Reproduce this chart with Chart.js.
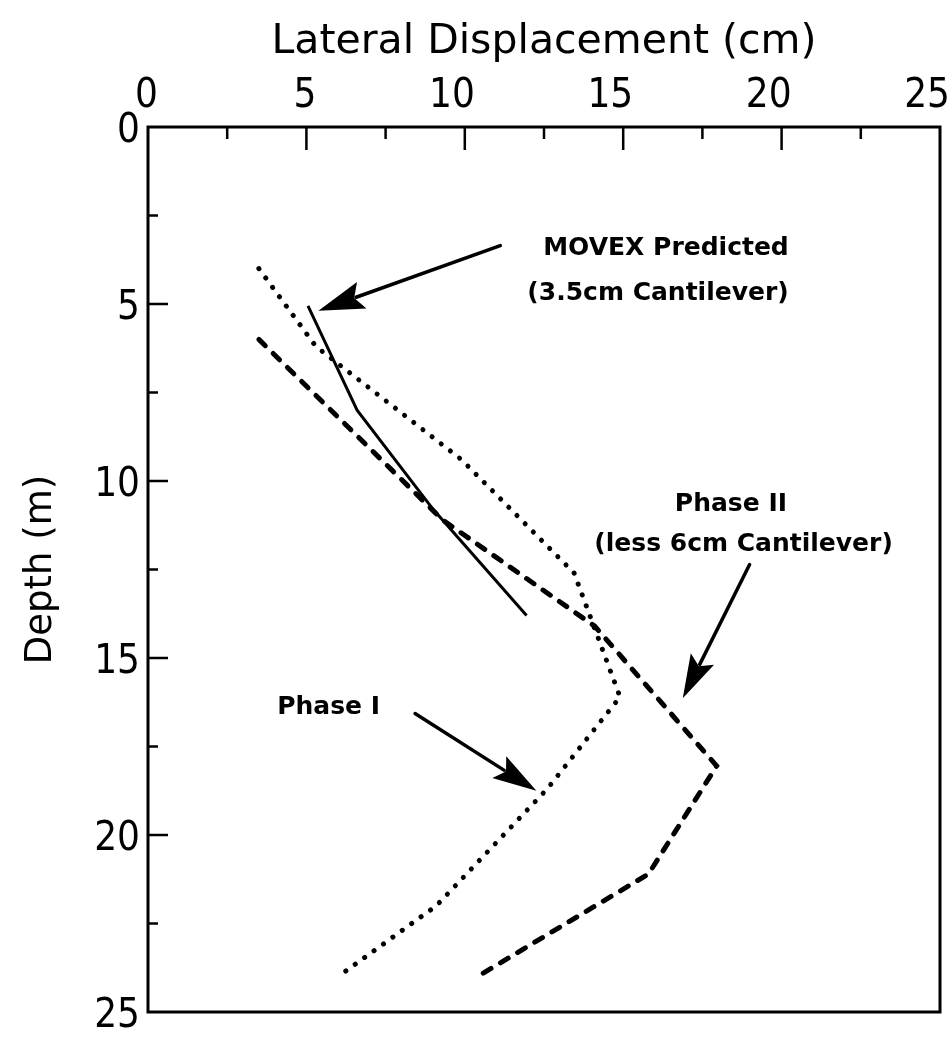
<!DOCTYPE html>
<html>
<head>
<meta charset="utf-8">
<title>Lateral Displacement vs Depth</title>
<script src="https://cdn.jsdelivr.net/npm/chart.js@4.4.1/dist/chart.umd.min.js"></script>
<style>
  html, body { margin: 0; padding: 0; background: #fff; }
</style>
</head>
<body>
<canvas id="profileChart" width="949" height="1047"></canvas>
<script>
// displacement (cm) / depth (m) pairs for each profile
const movexDisp   = [5.05, 6.6, 9.0, 11.95];
const movexDepth  = [5.05, 8.0, 10.8, 13.8];
const phase1Disp  = [3.5, 5.3, 9.9, 13.45, 14.9, 12.6, 9.1, 6.0];
const phase1Depth = [4.0, 6.2, 9.4, 12.6, 16.1, 18.7, 22.0, 24.0];
const phase2Disp  = [3.5, 9.3, 14.1, 17.95, 15.8, 10.4];
const phase2Depth = [6.0, 11.1, 14.1, 18.05, 21.1, 24.0];

const axisMax = 25;
const labelStep = 5;
const tickMarks = [2.5, 5, 7.5, 10, 12.5, 15, 17.5, 20, 22.5];

const toPoints = (xs, ys) => xs.map((v, i) => ({ x: v, y: ys[i] }));

const tickFont   = { family: "'Liberation Sans Narrow', 'DejaVu Sans Condensed', sans-serif", size: 40 };
const xTitleFont = { family: "'DejaVu Sans', sans-serif", size: 41 };
const yTitleFont = { family: "'DejaVu Sans', sans-serif", size: 37 };
const noteFont   = "bold 25px 'DejaVu Sans', sans-serif";

// frame round the plot plus inward tick marks on top and left
const frameTicks = {
  id: 'frameTicks',
  afterDraw(chart) {
    const { ctx, chartArea: a, scales: { x, y } } = chart;
    ctx.save();
    ctx.strokeStyle = '#000';
    ctx.lineWidth = 3;
    ctx.strokeRect(a.left, a.top, a.right - a.left, a.bottom - a.top);
    ctx.lineWidth = 2.5;
    ctx.beginPath();
    tickMarks.forEach(v => {
      const major = v % labelStep === 0;
      const px = x.getPixelForValue(v);
      ctx.moveTo(px, a.top);
      ctx.lineTo(px, a.top + (major ? 23 : 12));
      const py = y.getPixelForValue(v);
      ctx.moveTo(a.left, py);
      ctx.lineTo(a.left + (major ? 20 : 10), py);
    });
    ctx.stroke();
    ctx.restore();
  }
};

// callout arrows and their captions
const callouts = {
  id: 'callouts',
  afterDatasetsDraw(chart) {
    const { ctx, scales: { x, y } } = chart;
    const X = v => x.getPixelForValue(v);
    const Y = v => y.getPixelForValue(v);

    function arrow(x0, y0, x1, y1, len, half) {
      const p0 = [X(x0), Y(y0)], p1 = [X(x1), Y(y1)];
      const ang = Math.atan2(p1[1] - p0[1], p1[0] - p0[0]);
      const c = Math.cos(ang), s = Math.sin(ang);
      const bx = p1[0] - len * c, by = p1[1] - len * s;
      ctx.beginPath();
      ctx.moveTo(p0[0], p0[1]);
      ctx.lineTo(bx + 6 * c, by + 6 * s);
      ctx.stroke();
      ctx.beginPath();
      ctx.moveTo(p1[0], p1[1]);
      ctx.lineTo(bx + half * s, by - half * c);
      ctx.lineTo(bx + 8 * c, by + 8 * s);
      ctx.lineTo(bx - half * s, by + half * c);
      ctx.closePath();
      ctx.fill();
    }

    ctx.save();
    ctx.strokeStyle = '#000';
    ctx.fillStyle = '#000';
    ctx.lineWidth = 3.5;
    ctx.lineCap = 'round';
    arrow(11.12, 3.35, 5.38, 5.19, 46, 14);
    arrow(18.99, 12.36, 16.88, 16.14, 44, 13);
    arrow(8.43, 16.57, 12.26, 18.75, 44, 13);

    ctx.font = noteFont;
    ctx.textAlign = 'center';
    ctx.textBaseline = 'middle';
    ctx.fillText('MOVEX Predicted', X(16.35), Y(3.43));
    ctx.fillText('(3.5cm Cantilever)', X(16.1), Y(4.7));
    ctx.fillText('Phase II', X(18.4), Y(10.67));
    ctx.fillText('(less 6cm Cantilever)', X(18.8), Y(11.8));
    ctx.fillText('Phase I', X(5.7), Y(16.4));
    ctx.restore();
  }
};

new Chart(document.getElementById('profileChart'), {
  type: 'scatter',
  data: {
    datasets: [
      {
        label: 'MOVEX Predicted',
        data: toPoints(movexDisp, movexDepth),
        showLine: true,
        borderColor: '#000',
        borderWidth: 3,
        pointRadius: 0
      },
      {
        label: 'Phase I',
        data: toPoints(phase1Disp, phase1Depth),
        showLine: true,
        borderColor: '#000',
        borderWidth: 5,
        borderDash: [0.1, 11.5],
        borderCapStyle: 'round',
        pointRadius: 0
      },
      {
        label: 'Phase II',
        data: toPoints(phase2Disp, phase2Depth),
        showLine: true,
        borderColor: '#000',
        borderWidth: 5,
        borderDash: [9, 11],
        borderCapStyle: 'round',
        pointRadius: 0
      }
    ]
  },
  options: {
    responsive: false,
    animation: false,
    layout: { padding: { top: 0, left: 0, right: 9, bottom: 35 } },
    plugins: { legend: { display: false }, tooltip: { enabled: false } },
    scales: {
      x: {
        type: 'linear',
        position: 'top',
        min: 0,
        max: axisMax,
        grid: { display: false, drawTicks: false },
        border: { display: false },
        ticks: { stepSize: labelStep, align: 'end', labelOffset: 10, padding: 6, color: '#000', font: tickFont },
        title: { display: true, text: 'Lateral Displacement (cm)', color: '#000', font: xTitleFont, padding: { top: 18, bottom: 0 } },
        afterFit(scale) { scale.height = 127; }
      },
      y: {
        type: 'linear',
        reverse: true,
        min: 0,
        max: axisMax,
        grid: { display: false, drawTicks: false },
        border: { display: false },
        ticks: { stepSize: labelStep, labelOffset: 5, padding: 8, color: '#000', font: tickFont },
        title: { display: true, text: 'Depth (m)', color: '#000', font: yTitleFont, padding: { top: 19, bottom: 0 } },
        afterFit(scale) { scale.width = 148; }
      }
    }
  },
  plugins: [frameTicks, callouts]
});
</script>
</body>
</html>
